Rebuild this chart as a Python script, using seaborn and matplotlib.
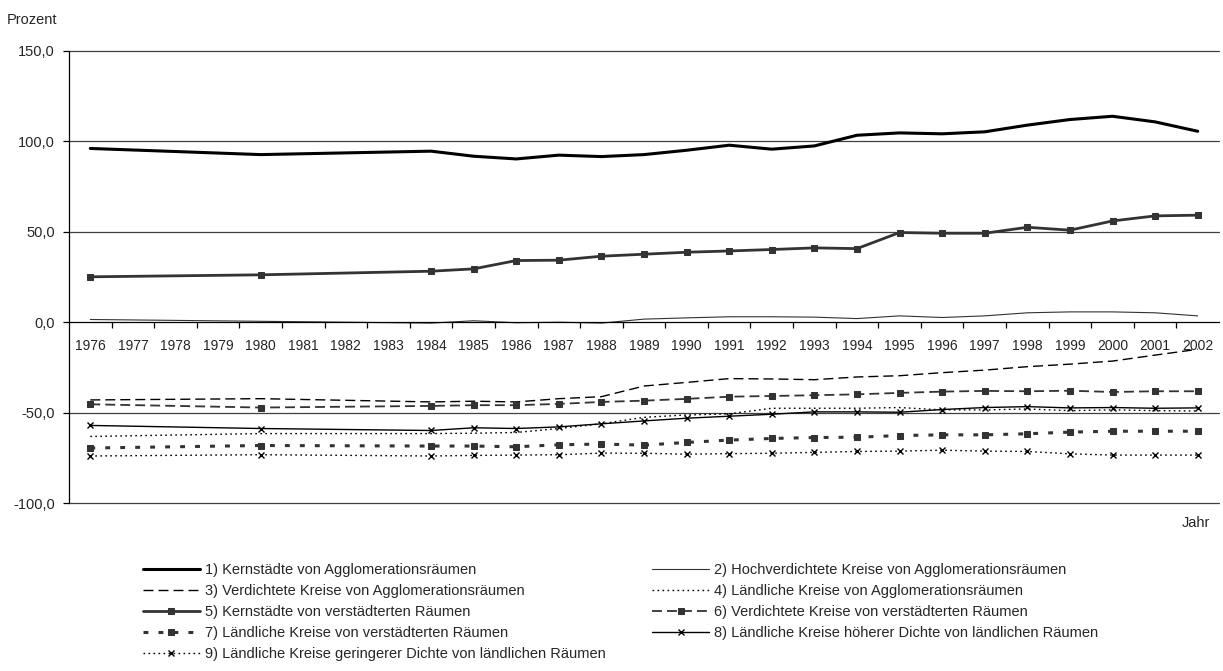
import numpy as np
import pandas as pd
import matplotlib
matplotlib.use("Agg")
import matplotlib.pyplot as plt
from matplotlib.ticker import FuncFormatter, FixedLocator
import seaborn as sns

# Jahre mit Werten (1977-1979 und 1981-1983 fehlen, Linie wird durchgezogen)
years = [1976, 1980, 1984, 1985, 1986, 1987, 1988, 1989, 1990, 1991, 1992,
         1993, 1994, 1995, 1996, 1997, 1998, 1999, 2000, 2001, 2002]

s1 = [96.1, 92.7, 94.6, 91.8, 90.3, 92.4, 91.6, 92.7, 95.1, 97.9, 95.7,
      97.5, 103.4, 104.7, 104.2, 105.3, 109.0, 112.1, 113.9, 110.8, 105.6]
s2 = [1.5, 0.5, -0.5, 0.8, -0.3, 0.0, -0.5, 1.7, 2.4, 3.0, 3.0,
      2.8, 2.0, 3.5, 2.6, 3.5, 5.2, 5.7, 5.7, 5.2, 3.5]
s3 = [-43.0, -42.3, -44.1, -43.7, -44.1, -42.3, -41.2, -35.3, -33.3, -31.2, -31.4,
      -31.8, -30.3, -29.6, -27.9, -26.5, -24.6, -23.2, -21.5, -18.2, -15.0]
s4 = [-63.2, -61.6, -61.6, -61.4, -61.0, -58.8, -56.2, -52.6, -51.3, -50.7, -47.6,
      -47.6, -47.6, -47.2, -48.5, -48.5, -48.0, -48.9, -48.5, -48.9, -49.1]
s5 = [25.1, 26.2, 28.2, 29.5, 34.1, 34.3, 36.5, 37.6, 38.7, 39.4, 40.2,
      41.1, 40.7, 49.6, 49.2, 49.2, 52.5, 50.9, 56.0, 58.8, 59.2]
s6 = [-45.4, -47.2, -46.3, -45.9, -45.9, -45.2, -44.1, -43.4, -42.4, -41.2, -40.8,
      -40.4, -39.9, -39.1, -38.4, -38.0, -38.2, -37.9, -38.6, -38.2, -38.2]
s7 = [-69.6, -68.2, -68.5, -68.5, -68.9, -67.8, -67.4, -68.0, -66.5, -65.2, -64.3,
      -63.8, -63.6, -62.7, -62.3, -62.3, -61.7, -60.8, -60.3, -60.3, -60.3]
s8 = [-57.1, -58.8, -59.9, -58.4, -58.8, -57.9, -56.2, -54.6, -53.1, -52.0, -50.9,
      -49.6, -49.6, -49.8, -48.3, -47.2, -46.7, -47.4, -47.2, -47.6, -47.4]
s9 = [-74.0, -73.3, -74.0, -73.7, -73.5, -73.3, -72.4, -72.5, -73.0, -72.7, -72.5,
      -72.0, -71.5, -71.3, -70.8, -71.3, -71.5, -72.8, -73.5, -73.5, -73.5]

labels = [
    "1) Kernstädte von Agglomerationsräumen",
    "2) Hochverdichtete Kreise von Agglomerationsräumen",
    "3) Verdichtete Kreise von Agglomerationsräumen",
    "4) Ländliche Kreise von Agglomerationsräumen",
    "5) Kernstädte von verstädterten Räumen",
    "6) Verdichtete Kreise von verstädterten Räumen",
    "7) Ländliche Kreise von verstädterten Räumen",
    "8) Ländliche Kreise höherer Dichte von ländlichen Räumen",
    "9) Ländliche Kreise geringerer Dichte von ländlichen Räumen",
]
series = [s1, s2, s3, s4, s5, s6, s7, s8, s9]
year_ticks = list(range(1976, 2003))

sns.set_theme(style="white")
plt.rcParams["font.family"] = ["Liberation Sans", "DejaVu Sans"]

dark = "#333333"
styles = [
    dict(color="black", lw=2.2, ls="-"),
    dict(color="#333333", lw=0.8, ls="-"),
    dict(color="black", lw=1.0, ls=(0, (7.2, 3.6))),
    dict(color="black", lw=1.0, ls=(0, (1.2, 2.4))),
    dict(color=dark, lw=2.0, ls="-", marker="s", ms=5),
    dict(color=dark, lw=1.3, ls=(0, (5.5, 2.8)), marker="s", ms=5),
    dict(color=dark, lw=2.2, ls=(0, (1.6, 3.3)), marker="s", ms=5),
    dict(color="black", lw=1.0, ls="-", marker="x", ms=5, mew=1.0),
    dict(color="black", lw=1.0, ls=(0, (1.2, 2.4)), marker="x", ms=5, mew=1.0),
]

fig = plt.figure(figsize=(12.23, 6.71), dpi=100)
ax = fig.add_axes([69 / 1223, 1 - 503 / 671, 1150 / 1223, 452 / 671])

for vals, lab, st in zip(series, labels, styles):
    st = dict(st)
    sns.lineplot(x=years, y=vals, ax=ax, label=lab, legend=False,
                 color=st.pop("color"), linewidth=st.pop("lw"),
                 linestyle=st.pop("ls"), **st)

# Marker-Kanten an Linienfarbe anpassen
for line in ax.get_lines():
    line.set_markeredgecolor(line.get_color())
    line.set_markerfacecolor(line.get_color())

ax.set_xlim(1975.5, 2002.5)
ax.set_ylim(-100, 150)
ax.set_yticks([-100, -50, 0, 50, 100, 150])
ax.yaxis.set_major_formatter(FuncFormatter(lambda v, p: f"{v:.1f}".replace(".", ",")))
ax.set_xticks(year_ticks)
ax.set_xticklabels([str(y) for y in year_ticks])
ax.xaxis.set_minor_locator(FixedLocator(np.arange(1976.5, 2002.5, 1.0)))

for y in [-100, -50, 50, 100, 150]:
    ax.axhline(y, color="#404040", lw=0.9, zorder=0, clip_on=False)

ax.spines["top"].set_visible(False)
ax.spines["right"].set_visible(False)
ax.spines["bottom"].set_position(("data", 0))
ax.spines["bottom"].set_color("black")
ax.spines["bottom"].set_linewidth(0.9)
ax.spines["left"].set_color("black")
ax.spines["left"].set_linewidth(0.9)

ax.tick_params(axis="x", which="major", length=0, pad=12, labelsize=10)
ax.tick_params(axis="x", which="minor", direction="out", length=4, width=0.9, color="black", bottom=True)
ax.tick_params(axis="y", direction="out", length=4, width=0.9, color="black", left=True, pad=6, labelsize=10.5)
ax.set_xlabel("")
ax.set_ylabel("")

fig.text(7 / 1223, 1 - 20 / 671, "Prozent", fontsize=10.5, va="center", ha="left")
fig.text(1210 / 1223, 1 - 523 / 671, "Jahr", fontsize=10.5, va="center", ha="right")

handles, labs = ax.get_legend_handles_labels()
order = [0, 2, 4, 6, 8, 1, 3, 5, 7]
fig.legend([handles[i] for i in order], [labs[i] for i in order],
           loc="upper left", bbox_to_anchor=(143 / 1223, 1 - 563 / 671),
           ncol=2, frameon=False, fontsize=10.5, handlelength=3.9,
           handletextpad=0.35, columnspacing=3.2, labelspacing=0.48,
           borderpad=0, borderaxespad=0)

fig.savefig("out.png", dpi=100)
